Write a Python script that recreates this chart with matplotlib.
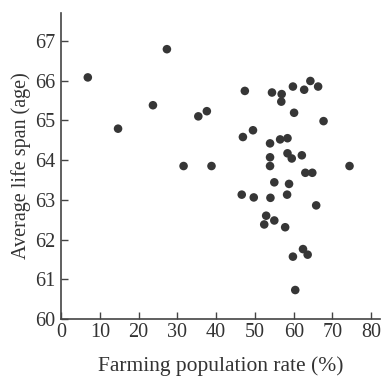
import matplotlib
matplotlib.use('Agg')
import matplotlib.pyplot as plt

# Farming population rate (%) and average life span (age)
farming_rate = [6.9, 14.7, 23.7, 27.3, 35.4, 37.6, 31.6, 38.8,
                47.4, 54.4, 56.9, 56.8, 59.8, 62.7, 64.3, 66.3, 60.1, 67.7,
                46.9, 49.5, 53.9, 56.5, 58.4, 58.4, 59.5, 62.1,
                53.9, 53.9, 63.0, 64.8, 74.4, 55.0, 58.8,
                46.6, 49.7, 54.0, 58.3, 65.8,
                52.9, 52.4, 55.0, 57.8, 62.4, 63.6, 59.8, 60.4]
life_span = [66.08, 64.79, 65.38, 66.79, 65.10, 65.23, 63.85, 63.85,
             65.74, 65.70, 65.66, 65.47, 65.85, 65.77, 65.99, 65.85, 65.19, 64.98,
             64.58, 64.75, 64.42, 64.52, 64.55, 64.17, 64.04, 64.12,
             64.07, 63.85, 63.68, 63.68, 63.85, 63.44, 63.40,
             63.13, 63.06, 63.05, 63.13, 62.86,
             62.60, 62.38, 62.48, 62.31, 61.76, 61.62, 61.57, 60.73]

x_ticks = [0, 10, 20, 30, 40, 50, 60, 70, 80]
y_ticks = [60, 61, 62, 63, 64, 65, 66, 67]

plt.rcParams['font.family'] = ['Liberation Serif', 'DejaVu Serif']

fig = plt.figure(figsize=(3.84, 3.83), dpi=100)
ax = fig.add_axes([0.159, 0.167, 0.831, 0.799])

ax.scatter(farming_rate, life_span, s=38, color='#363636', edgecolors='none')

ax.set_xlim(0, 82.3)
ax.set_ylim(60, 67.7)
ax.set_xticks(x_ticks)
ax.set_yticks(y_ticks)
ax.spines['top'].set_visible(False)
ax.spines['right'].set_visible(False)
for s in ['left', 'bottom']:
    ax.spines[s].set_color('#444444')
    ax.spines[s].set_linewidth(1.2)
ax.tick_params(direction='in', length=5, width=1, color='#444444',
               labelsize=14.5, labelcolor='#333333')
ax.tick_params(axis='x', pad=3)
ax.tick_params(axis='y', pad=4)

ax.set_xlabel('Farming population rate (%)', fontsize=15.5, color='#333333', labelpad=10)
ax.set_ylabel('Average life span (age)', fontsize=14.5, color='#333333', labelpad=3)

fig.savefig('out.png', dpi=100)
